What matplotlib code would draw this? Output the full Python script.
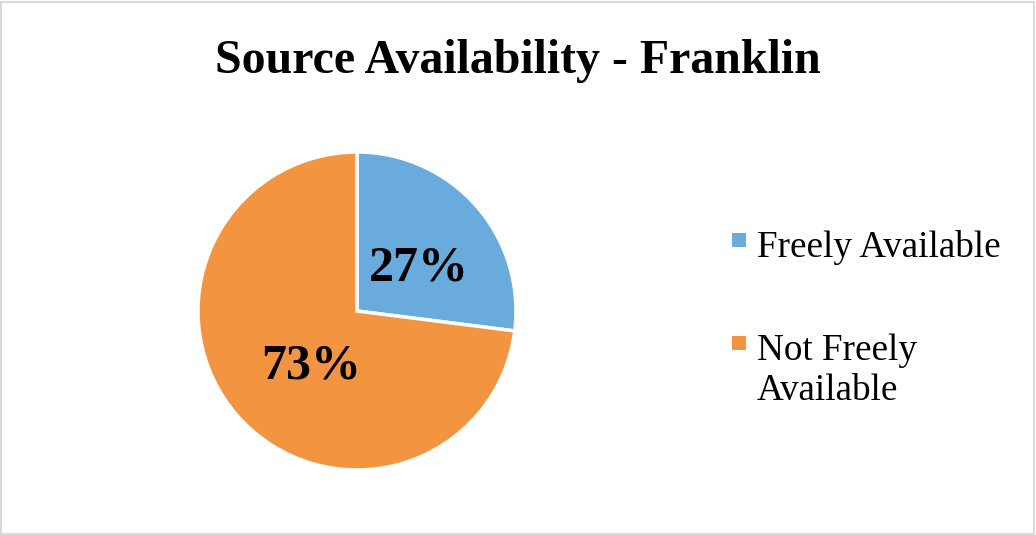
import numpy as np
import matplotlib.pyplot as plt
from matplotlib.patches import Rectangle

labels = ['Freely Available', 'Not Freely\nAvailable']
shares = [27, 73]
colors = ['#6aabdd', '#f29440']

plt.rcParams['font.family'] = ['Liberation Serif', 'DejaVu Serif']

W, H = 1036, 535
fig = plt.figure(figsize=(W / 100, H / 100), dpi=100)

# square axes holding the pie (centre ~ (357, 311) px, radius ~159 px)
ax = fig.add_axes([198 / W, 65 / H, 318 / W, 318 / H])
wedges, texts = ax.pie(
    shares, colors=colors, startangle=90, counterclock=False,
    wedgeprops=dict(edgecolor='white', linewidth=2.5))
ax.set_xlim(-1.0, 1.0)
ax.set_ylim(-1.0, 1.0)
ax.set_aspect('auto')
ax.axis('off')

# percentage labels, placed a little like Excel does
label_r = [0.47, 0.45]
label_shift = [-7, 9]   # degrees
for w, s, r, d in zip(wedges, shares, label_r, label_shift):
    ang = np.deg2rad((w.theta1 + w.theta2) / 2 + d)
    ax.text(r * np.cos(ang), r * np.sin(ang), f'{s}%', ha='center', va='center',
            fontsize=36, fontweight='bold')

fig.text(0.5, 1 - 61 / H, 'Source Availability - Franklin', ha='center', va='center',
         fontsize=34.5, fontweight='bold')

# legend drawn by hand so the marker sits at the first text line
leg_top = [233, 336]
for lab, c, top in zip(labels, colors, leg_top):
    fig.patches.append(Rectangle((732 / W, 1 - (top + 14) / H), 14 / W, 14 / H,
                                 transform=fig.transFigure, facecolor=c,
                                 edgecolor='none'))
    fig.text(757 / W, 1 - (top - 3) / H, lab, ha='left', va='top', fontsize=26.7,
             linespacing=1.22)

fig.patches.append(Rectangle((0.001, 0.002), 0.997, 0.995, transform=fig.transFigure,
                             fill=False, edgecolor='#d9d9d9', linewidth=1.5))

fig.savefig('out.png', dpi=100)
